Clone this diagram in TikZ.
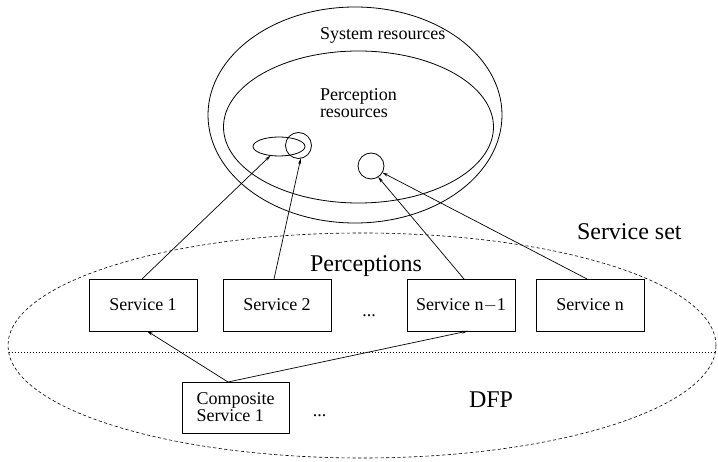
\documentclass[tikz,border=0pt]{standalone}
\usepackage{fontspec}
\setmainfont{Liberation Serif}
\usetikzlibrary{arrows.meta,shapes.geometric,calc}

\begin{document}
\begin{tikzpicture}[x=1pt,y=-1pt,
  every node/.style={inner sep=0pt,outer sep=0pt},
  thin line/.style={line width=0.8pt},
  region/.style={draw,thin line,ellipse},
  resdot/.style={draw,thin line,circle,minimum size=26pt},
  svc/.style={draw,thin line,minimum width=108pt,minimum height=52pt,
    font=\fontsize{18}{15}\selectfont},
  lbl/.style={font=\fontsize{18}{16.5}\selectfont,anchor=base west,align=left},
  biglbl/.style={font=\fontsize{24}{26}\selectfont,anchor=base west},
  link/.style={line width=0.7pt,-{Stealth[length=6pt,width=3pt]}}]

\useasboundingbox (0,0) rectangle (718,462);

% resource regions
\node[region,minimum width=294pt,minimum height=216pt] (sys) at (355,115) {};
\node[region,minimum width=270pt,minimum height=152pt] (perc) at (358.5,127) {};
\node[lbl] (systxt) at (320,40) {System resources};
% base anchor of a two-line node sits on its last line
\node[lbl] (perctxt) at (320,117.5) {Perception\\resources};

% individual resources
\node[region,minimum width=52pt,minimum height=19pt] (se) at (279,146.5) {};
\node[resdot] (c1) at (298.5,145.5) {};
\node[resdot] (c2) at (371,166) {};

% service set
\node[draw,ellipse,line width=0.6pt,dash pattern=on 3.2pt off 2.4pt,
  minimum width=708pt,minimum height=225pt] (ss) at (362,345.5) {};
\coordinate (dl) at (8.6,352);
\coordinate (dr) at (715.4,352);
\draw[line width=0.6pt,dash pattern=on 0.7pt off 2.3pt] (dl) -- (dr);

\node[biglbl] (sstxt) at (577,240) {Service set};
\node[biglbl] (ptxt) at (310,272) {Perceptions};
\node[biglbl] (dfp) at (469,408) {DFP};

% services
\node[svc] (s1) at (143,305) {Service 1};
\node[svc] (s2) at (277,305) {Service 2};
\node[svc] (sn1) at (461,305) {Service n$-$1};
\node[svc] (sn) at (590,305) {Service n};
\node[lbl,anchor=base] (dots1) at (369,317) {...};

\node[svc,minimum width=107pt,minimum height=51pt,align=left] (cs) at (235.5,407.5) {Composite\\Service 1};
\node[lbl,anchor=base] (dots2) at (319.5,417) {...};

% links
\draw[link] ($(s1.north)+(-1,0)$) -- (se.-133);
\draw[link] ($(s2.north)+(-3,0)$) -- (c1.-80);
\draw[link] ($(sn1.north)+(3,0)$) -- (c2.-57);
\draw[link] ($(sn.north)+(-3,0)$) -- (c2.-30);
\coordinate (cstop) at ($(cs.north)+(-7.5,0)$);
\draw[link] (cstop) -- ($(s1.south)+(4,0)$);
\draw[link] (cstop) -- ($(sn1.south)+(7,0)$);
\end{tikzpicture}
\end{document}
